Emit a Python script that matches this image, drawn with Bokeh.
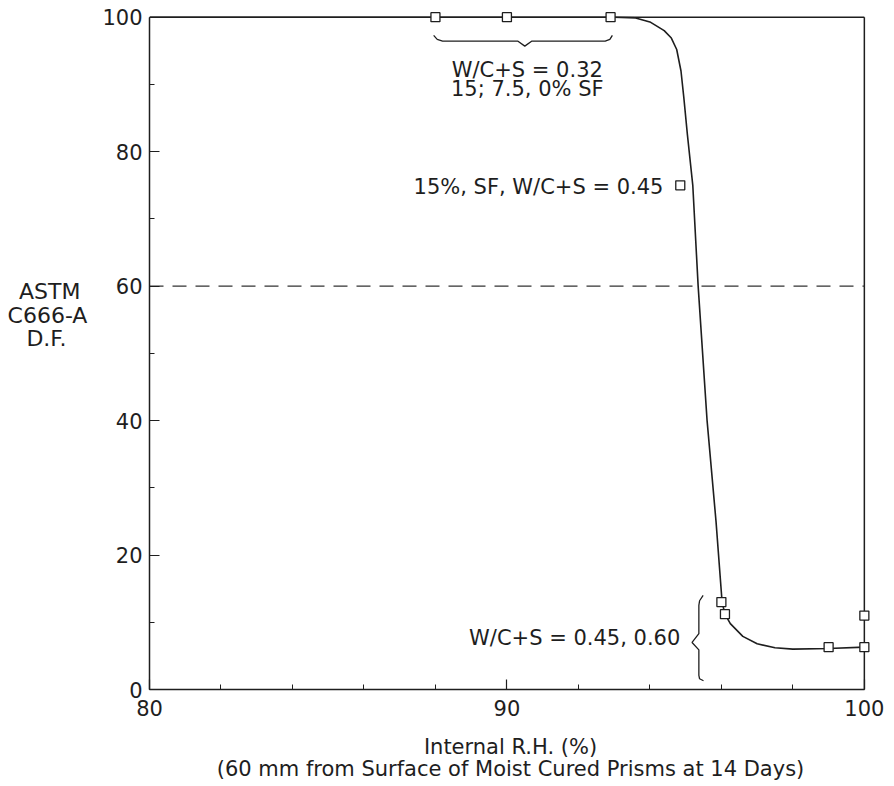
from bokeh.plotting import figure
from bokeh.models import Range1d, SingleIntervalTicker, Label, ColumnDataSource
from bokeh.embed import file_html
from bokeh.resources import INLINE

# ---- data ----
x_min, x_max = 80, 100
y_min, y_max = 0, 100

curve_x = [80, 93.0, 93.6, 94.0, 94.4, 94.6, 94.75, 94.87, 94.95, 95.05, 95.2, 95.35, 95.6, 95.85, 96.02, 96.1, 96.25, 96.6, 97.0, 97.5, 98.0, 99.0, 100]
curve_y = [100, 100, 99.9, 99.3, 98.0, 96.9, 95.2, 92.0, 88.0, 82.5, 75.0, 60.0, 40.0, 25.0, 13.0, 11.2, 9.8, 7.9, 6.8, 6.2, 6.0, 6.1, 6.3]

point_x = [88, 90, 92.9, 94.85, 96.0, 96.1, 99.0, 100, 100]
point_y = [100, 100, 100, 75, 13, 11.2, 6.3, 6.3, 11.0]

brace_top_x = [87.95, 88.05, 88.2, 90.3, 90.5, 90.7, 92.75, 92.88, 92.95]
brace_top_y = [97.3, 96.7, 96.45, 96.45, 95.7, 96.45, 96.45, 96.7, 97.3]

brace_side_x = [95.49, 95.39, 95.37, 95.37, 95.18, 95.37, 95.37, 95.39, 95.50]
brace_side_y = [14.0, 13.2, 12.5, 8.3, 7.0, 5.9, 2.1, 1.6, 1.3]

limit_y = 60

x_ticks_interval = 10
y_ticks_interval = 20

NB = "\u00a0"
y_title_lines = ["ASTM" + NB, "C666-A", "D.F." + NB * 3]
x_title_lines = ["Internal R.H. (%)", "(60 mm from Surface of Moist Cured Prisms at 14 Days)"]

FONT = "DejaVu Sans"
FS = "21px"
INK = "#1e1e1e"

p = figure(width=894, height=786, output_backend="svg", toolbar_location=None,
           x_range=Range1d(x_min, x_max + 0.2), y_range=Range1d(y_min, y_max + 1.0),
           min_border_left=149, min_border_right=23, min_border_top=10, min_border_bottom=97)
p.xgrid.visible = False
p.ygrid.visible = False
p.outline_line_color = None
p.background_fill_color = "white"
p.border_fill_color = "white"

for ax in (p.xaxis[0], p.yaxis[0]):
    ax.axis_line_color = INK
    ax.axis_line_width = 1.5
    ax.major_tick_in = 10
    ax.major_tick_out = 0
    ax.minor_tick_in = 5
    ax.minor_tick_out = 0
    ax.major_tick_line_color = INK
    ax.minor_tick_line_color = INK
    ax.major_tick_line_width = 1.2
    ax.minor_tick_line_width = 1.0
    ax.major_label_text_font = FONT
    ax.major_label_text_font_size = FS
    ax.major_label_text_color = INK
    ax.axis_label_text_font = FONT
    ax.axis_label_text_font_size = FS
    ax.axis_label_text_font_style = "normal"
    ax.axis_label_text_color = INK
    ax.axis_label_text_line_height = 0.93

p.xaxis[0].bounds = (x_min, x_max)
p.yaxis[0].bounds = (y_min, y_max)
p.xaxis[0].ticker = SingleIntervalTicker(interval=x_ticks_interval, num_minor_ticks=5)
p.yaxis[0].ticker = SingleIntervalTicker(interval=y_ticks_interval, num_minor_ticks=2)
p.xaxis[0].major_label_standoff = 10
p.yaxis[0].major_label_standoff = 7

p.xaxis[0].axis_label = "\n".join(x_title_lines)
p.xaxis[0].axis_label_standoff = 16
p.yaxis[0].axis_label = "\n".join(y_title_lines + [" ", " ", " "])
p.yaxis[0].axis_label_orientation = "horizontal"
p.yaxis[0].axis_label_standoff = 12
p.yaxis[0].axis_label_text_font_size = "22px"

# top and right edges of the frame
p.line([x_min, x_max], [y_max, y_max], line_color=INK, line_width=1.5)
p.line([x_max, x_max], [y_min, y_max], line_color=INK, line_width=1.5)

# dashed limit line
p.line([x_min, x_max], [limit_y, limit_y], line_color="#333333", line_width=1.3, line_dash="14 9")

# curve
p.line(curve_x, curve_y, line_color=INK, line_width=1.6)

# braces
p.line(brace_top_x, brace_top_y, line_color=INK, line_width=1.3)
p.line(brace_side_x, brace_side_y, line_color=INK, line_width=1.3)

# points
src = ColumnDataSource(dict(x=point_x, y=point_y))
p.scatter("x", "y", source=src, marker="square", size=9, fill_color="white",
          line_color=INK, line_width=1.3)

def lab(x, y, t, align="center"):
    p.add_layout(Label(x=x, y=y, text=t, text_font=FONT, text_font_size=FS,
                       text_color=INK, text_align=align, text_baseline="middle"))

lab(90.57, 92.1, "W/C+S = 0.32")
lab(90.57, 89.3, "15; 7.5, 0% SF")
lab(94.38, 74.7, "15%, SF, W/C+S = 0.45", "right")
lab(94.85, 7.6, "W/C+S = 0.45, 0.60", "right")

open("out.html", "w").write(file_html(p, INLINE))
